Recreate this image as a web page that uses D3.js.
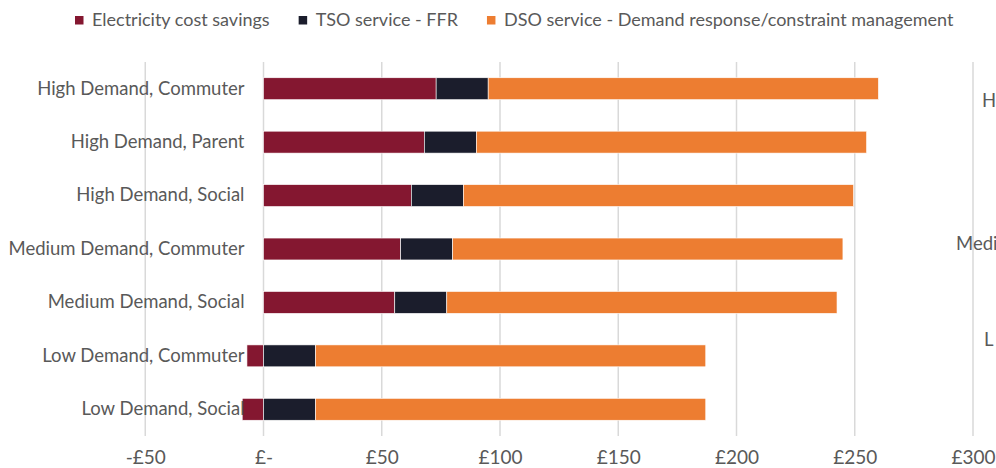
<!DOCTYPE html>
<html>
<head>
<meta charset="utf-8">
<script src="https://cdn.jsdelivr.net/npm/d3@7"></script>
<style>
  body { margin: 0; background: #fff; }
  text { font-family: Lato, "Open Sans", sans-serif; fill: #595959; }
</style>
</head>
<body>
<div id="chart"></div>
<script>
var svgWidth = 996;
var svgHeight = 468;

// data
var categories = [
  "High Demand, Commuter",
  "High Demand, Parent",
  "High Demand, Social",
  "Medium Demand, Commuter",
  "Medium Demand, Social",
  "Low Demand, Commuter",
  "Low Demand, Social"
];
var seriesNames = [
  "Electricity cost savings",
  "TSO service - FFR",
  "DSO service - Demand response/constraint management"
];
var electricitySavings = [73, 68, 62.5, 58, 55.5, -7, -9];
var tsoFFR = [22, 22, 22, 22, 22, 22, 22];
var dsoService = [165, 165, 165, 165, 165, 165, 165];
var tickValues = [-50, 0, 50, 100, 150, 200, 250, 300];
// visible part of the neighbouring chart's labels (cut at the right edge)
var sideLabels = ["H", "Medi", "L"];

var colors = ["#841730", "#1b1d2c", "#ed7d31"];

var margin = { top: 62, right: 23, bottom: 32, left: 145.25 };
var width = svgWidth - margin.left - margin.right;
var height = svgHeight - margin.top - margin.bottom;

var svg = d3.select("#chart")
  .append("svg")
  .attr("width", svgWidth)
  .attr("height", svgHeight);

var chartGroup = svg.append("g")
  .attr("transform", `translate(${margin.left}, ${margin.top})`);

var keys = ["elec", "tso", "dso"];
var rows = categories.map(function(c, i) {
  return { cat: c, elec: electricitySavings[i], tso: tsoFFR[i], dso: dsoService[i] };
});

var xScale = d3.scaleLinear()
  .domain([-50, 300])
  .range([0, width]);

var yScale = d3.scaleBand()
  .domain(categories)
  .range([0, height])
  .paddingInner(0.59)
  .paddingOuter(0.295);

// gridlines
chartGroup.append("g")
  .selectAll("line")
  .data(tickValues)
  .enter()
  .append("line")
  .attr("x1", d => xScale(d))
  .attr("x2", d => xScale(d))
  .attr("y1", 0)
  .attr("y2", height)
  .attr("stroke", "#d9d9d9")
  .attr("stroke-width", 1.5);

// x tick labels
var bottomAxis = d3.axisBottom(xScale)
  .tickValues(tickValues)
  .tickSize(0)
  .tickPadding(0)
  .tickFormat(d => d === 0 ? "£-" : (d < 0 ? "-£" + Math.abs(d) : "£" + d));

var xAxis = chartGroup.append("g")
  .attr("transform", `translate(0, ${height})`)
  .call(bottomAxis);
xAxis.select(".domain").remove();
xAxis.selectAll("text")
  .attr("dy", null)
  .attr("y", 28)
  .style("font-size", "19px")
  .attr("fill", "#595959");

// stacked bars
var stack = d3.stack().keys(keys).offset(d3.stackOffsetDiverging);
var stacked = stack(rows);

chartGroup.selectAll(".series")
  .data(stacked)
  .enter()
  .append("g")
  .attr("fill", (d, i) => colors[i])
  .selectAll("rect")
  .data(d => d)
  .enter()
  .append("rect")
  .attr("x", d => xScale(Math.min(d[0], d[1])))
  .attr("width", d => Math.abs(xScale(d[1]) - xScale(d[0])))
  .attr("y", d => yScale(d.data.cat))
  .attr("height", yScale.bandwidth())
  .attr("stroke", "#fff")
  .attr("stroke-width", 0.6);

// category labels
var yAxis = chartGroup.append("g")
  .attr("transform", `translate(${xScale(0) - 19}, 0)`)
  .call(d3.axisLeft(yScale).tickSize(0).tickPadding(0));
yAxis.select(".domain").remove();
yAxis.selectAll("text")
  .style("font-size", "18.5px")
  .attr("fill", "#595959");

// legend
var legend = svg.append("g")
  .attr("transform", "translate(75, 20)");
var lx = 0;
seriesNames.forEach(function(name, i) {
  var item = legend.append("g").attr("transform", `translate(${lx}, 0)`);
  item.append("rect")
    .attr("x", 0)
    .attr("y", -4)
    .attr("width", 8.5)
    .attr("height", 8.5)
    .attr("fill", colors[i]);
  var t = item.append("text")
    .attr("x", 17)
    .attr("dy", "0.35em")
    .style("font-size", "18px")
    .text(name);
  lx += 17 + t.node().getComputedTextLength() + 29;
});

// cut-off labels of the next chart
var sideX = [982, 956, 984];
var sideY = [101, 244, 340];
svg.append("g")
  .selectAll("text")
  .data(sideLabels)
  .enter()
  .append("text")
  .attr("x", (d, i) => sideX[i])
  .attr("y", (d, i) => sideY[i])
  .attr("dy", "0.35em")
  .style("font-size", "18.5px")
  .text(d => d);
</script>
</body>
</html>
